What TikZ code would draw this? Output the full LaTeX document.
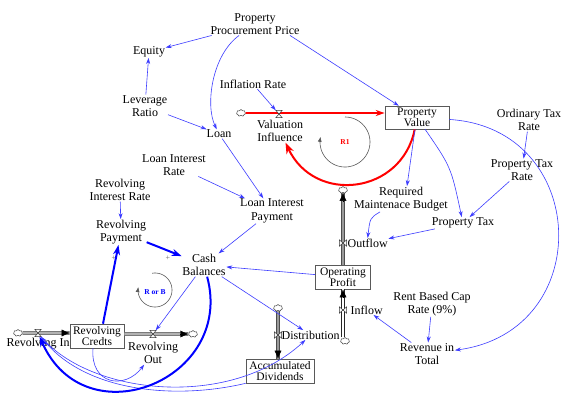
\documentclass[tikz,border=0pt]{standalone}
\usepackage{fontspec}
\setmainfont{Liberation Serif}
\usetikzlibrary{arrows.meta,shapes.symbols}
\definecolor{linkblue}{RGB}{60,60,255}
\begin{document}
\begin{tikzpicture}[x=1pt,y=-1pt,
  lbl/.style={align=center,inner sep=0.5pt,font=\fontsize{12}{13.5}\selectfont},
  stock/.style={draw=black!65,line width=0.6pt,fill=white,align=center,inner sep=0pt,font=\fontsize{11.5}{11.5}\selectfont},
  conn/.style={draw=linkblue,line width=0.6pt,-{Stealth[length=6pt,width=4pt]}},
  thickconn/.style={draw=blue,line width=2pt,-{Stealth[length=10pt,width=7pt]}},
  redflow/.style={draw=red,line width=1.6pt,-{Stealth[length=9pt,width=6pt]}},
  redlink/.style={draw=red,line width=2pt,-{Stealth[length=11pt,width=8pt]}},
  pipeh/.style={draw=black!55,double=black!30,double distance=2.4pt,line width=0.6pt},
  pipev/.style={draw=black!70,double=black!40,double distance=2.4pt,line width=0.6pt},
  pipewhite/.style={draw=black!85,double=white,double distance=2.4pt,line width=0.6pt},
  pipetip/.style={draw=black,fill=black,line width=0.4pt,-{Latex[length=8pt,width=7pt]}},
  valvebox/.style={inner sep=0pt,minimum width=6pt,minimum height=7pt,draw=none},
  valveboxv/.style={inner sep=0pt,minimum width=7pt,minimum height=6pt,draw=none},
  valveline/.style={draw=black!80,fill=white,line width=0.5pt},
  cloudy/.style={cloud,cloud puffs=7,aspect=1.4,draw=black!75,fill=white,minimum width=9pt,minimum height=7pt,inner sep=0pt,line width=0.5pt},
  loopline/.style={draw=black!65,line width=0.6pt},
  plusmark/.style={font=\fontsize{8}{8}\selectfont,text=black!60,inner sep=0pt}
]
\fill[white] (0,0) rectangle (563,397);
\useasboundingbox (0,0) rectangle (563,397);

% ---------- variables ----------
\node[lbl] (ppp) at (255,24) {Property\\Procurement Price};
\node[lbl] (eq) at (149,52) {Equity};
\node[lbl] (lev) at (145,106) {Leverage\\Ratio};
\node[lbl] (loan) at (219,134) {Loan};
\node[lbl] (infl) at (253,84) {Inflation Rate};
\node[lbl] (vi) at (280,131) {Valuation\\Influence};
\node[stock,minimum width=64pt,minimum height=23pt] (pv) at (417,117.5) {Property\\Value};
\node[lbl] (ltr) at (174,165) {Loan Interest\\Rate};
\node[lbl] (lip) at (272,211) {Loan Interest\\Payment};
\node[lbl] (rir) at (120,190) {Revolving\\Interest Rate};
\node[lbl] (rp) at (121,232) {Revolving\\Payment};
\node[lbl] (cb) at (204,265) {Cash\\Balances};
\node[lbl] (rmb) at (401,199) {Required\\Maintenace Budget};
\node[lbl] (ptx) at (463,223) {Property Tax};
\node[lbl] (otr) at (529,120) {Ordinary Tax\\Rate};
\node[lbl] (ptr) at (522,170) {Property Tax\\Rate};
\node[stock,minimum width=55pt,minimum height=24pt] (op) at (343,277) {Operating\\Profit};
\node[lbl] (rbc) at (432,304) {Rent Based Cap\\Rate (9\%)};
\node[lbl] (rev) at (427,354) {Revenue in\\Total};
\node[stock,minimum width=68pt,minimum height=24pt] (ad) at (280,371) {Accumulated\\Dividends};
\node[stock,minimum width=54pt,minimum height=24pt] (rc) at (97,336) {Revolving\\Credts};
\node[lbl] (rinl) at (38,344) {Revolving In};
\node[lbl] (routl) at (153,353) {Revolving\\Out};
\node[lbl,anchor=west] (outl) at (347,243) {Outflow};
\node[lbl,anchor=west] (inl) at (350,310) {Inflow};
\node[lbl,anchor=west] (distl) at (281,335) {Distribution};

% ---------- valves and clouds ----------
\node[valvebox] (vvi) at (279,114) {};
\node[valvebox] (vrin) at (38,333) {};
\node[valvebox] (vrout) at (153,334) {};
\node[valveboxv] (vout) at (343,243) {};
\node[valveboxv] (vin) at (343,310) {};
\node[valveboxv] (vdist) at (278,335) {};

\node[cloudy] (c1) at (241,113) {};
\node[cloudy] (c2) at (343,190) {};
\node[cloudy] (c3) at (345,341) {};
\node[cloudy] (c4) at (278,308) {};
\node[cloudy] (c5) at (18,333) {};
\node[cloudy] (c6) at (193,334) {};

% ---------- pipes ----------
\draw[redflow] (c1) -- (c1 -| pv.west);
\draw[pipeh] (c5) -- (c5 -| rc.west);
\draw[pipetip] ([xshift=-8pt]c5 -| rc.west) -- (c5 -| rc.west);
\draw[pipeh] (vrout -| rc.east) -- (c6);
\draw[pipetip] ([xshift=-8pt]vrout -| c6.west) -- (vrout -| c6.west);
\draw[pipev] (vout |- op.north) -- (vout |- c2.south);
\draw[pipetip] ([yshift=-8pt]vout |- c2.south) -- (vout |- c2.south);
\draw[pipewhite] (vin |- c3.north) -- (vin |- op.south);
\draw[pipetip] ([yshift=-8pt]vin |- op.south) -- (vin |- op.south);
\draw[pipev] (vdist |- c4.south) -- (vdist |- ad.north);
\draw[pipetip] ([yshift=8pt]vdist |- ad.north) -- (vdist |- ad.north);

\foreach \v in {vvi,vrin,vrout}
  \draw[valveline] (\v.north west) -- (\v.north east) -- (\v.south west) -- (\v.south east) -- cycle;
\foreach \v in {vout,vin,vdist}
  \draw[valveline] (\v.north west) -- (\v.south west) -- (\v.north east) -- (\v.south east) -- cycle;

% ---------- loops ----------
\draw[loopline,{Latex[length=5pt,width=4pt]}-] plot[domain=-192:90,samples=60] ({345+25*cos(\x)},{142-25*sin(\x)});
\node[font=\bfseries\fontsize{7.5}{8}\selectfont,text=red,inner sep=0pt] (r1) at (345,142) {R1};
\draw[loopline,{Latex[length=5pt,width=4pt]}-] plot[domain=-190:100,samples=60] ({155+17*cos(\x)},{290-17*sin(\x)});
\node[font=\bfseries\fontsize{7.5}{8}\selectfont,text=blue,inner sep=0pt] (rb) at (155,292) {R or B};
\node[plusmark] (p1) at (114,258) {+};
\node[plusmark] (p2) at (168,258) {+};

% ---------- red link ----------
\draw[redlink] (pv) .. controls (402,194) and (315,205) .. (vi);

% ---------- thin links ----------
\draw[conn] (ppp) -- (eq);
\draw[conn] (ppp) .. controls (212,55) and (205,105) .. (loan);
\draw[conn] ([xshift=35pt]ppp.south) -- (pv);
\draw[conn] (lev) -- (eq);
\draw[conn] (lev) -- (loan);
\draw[conn] (loan) -- (lip);
\draw[conn] (ltr) -- (lip);
\draw[conn] (infl) -- (vvi);
\draw[conn] ([xshift=-2pt]pv.south) -- ([xshift=6pt]rmb.north);
\draw[conn] (pv) .. controls (451,167) .. (ptx);
\draw[conn] (pv) .. controls (590,128) and (597,331) .. (rev);
\draw[conn] (otr) -- (ptr);
\draw[conn] (ptr) -- (ptx);
\draw[conn] ([xshift=-21pt]rmb.south) .. controls (370,218) .. (outl.north);
\draw[conn] (ptx) -- (outl);
\draw[conn] (op) -- (cb);
\draw[conn] (lip) -- (cb);
\draw[conn] (rir) -- (rp);
\draw[conn] (rbc) -- (rev);
\draw[conn] (rev) -- (inl);
\draw[conn] (cb) -- (vrout);
\draw[conn] ([xshift=-4pt]rc.south) .. controls (90,385) and (125,390) .. (routl);
\draw[conn] (cb) -- (distl);
\draw[conn] (vrin) .. controls (90,395) and (230,410) .. (distl);
\draw[conn] (ad.south west) .. controls (175,400) and (85,392) .. (vrin);

% ---------- thick links ----------
\draw[thickconn] (rp) -- (cb);
\draw[thickconn] ([xshift=6pt]rc.north) -- (rp);
\draw[thickconn] (cb) .. controls (235,380) and (85,440) .. (vrin);
\end{tikzpicture}
\end{document}
